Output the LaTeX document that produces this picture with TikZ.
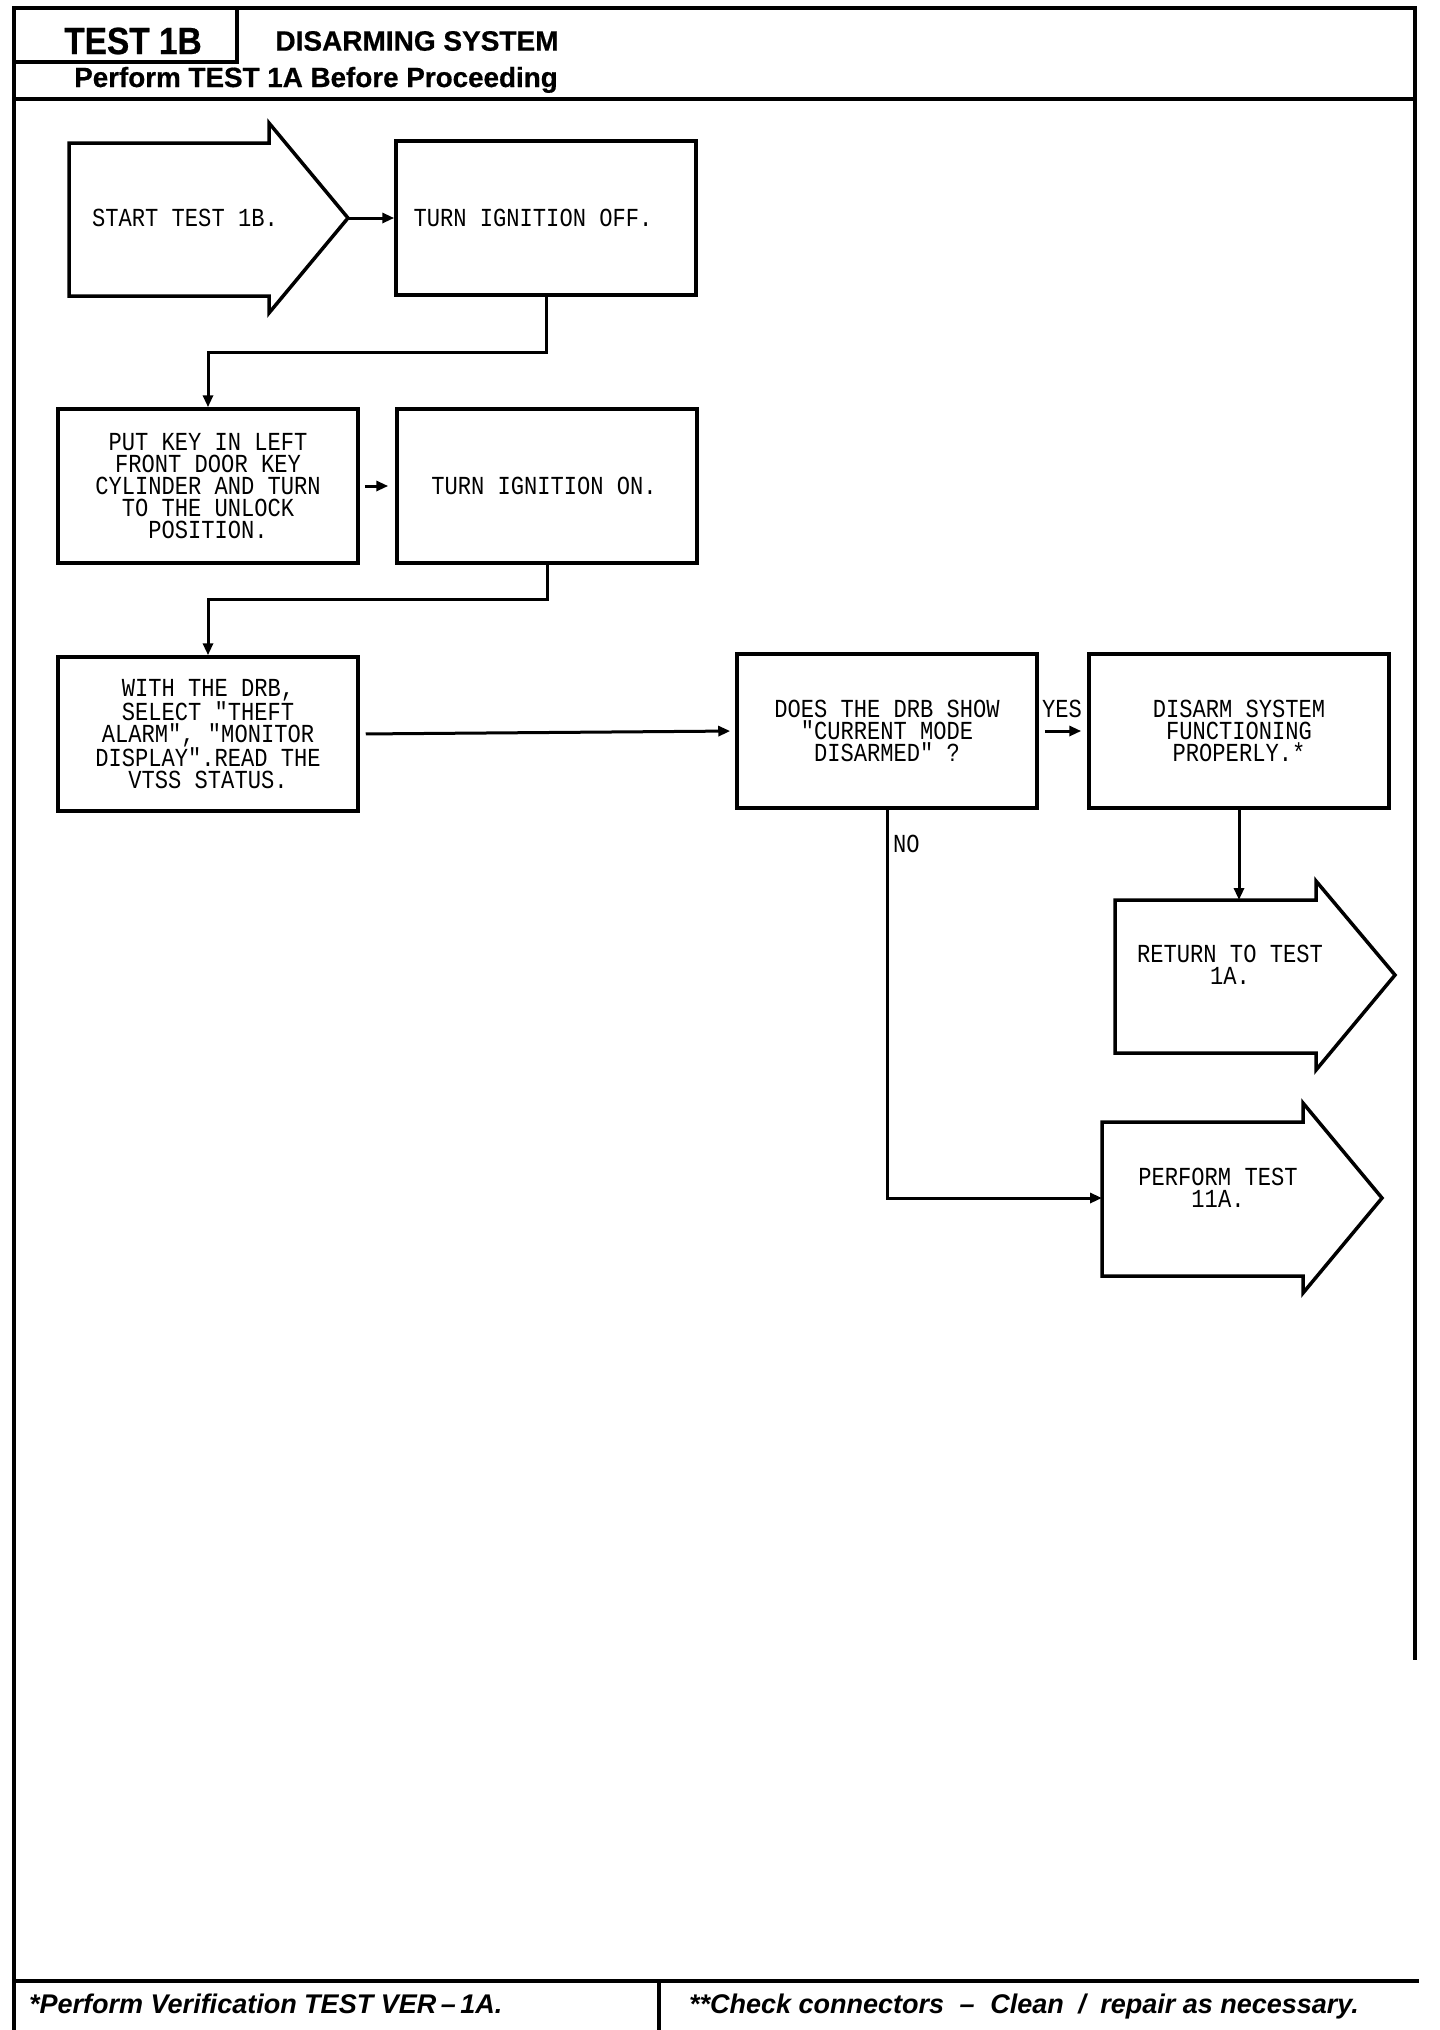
\documentclass[tikz,border=0pt]{standalone}
\usepackage{fontspec}
\setmainfont{Liberation Sans}
\newfontfamily\boxfont[FakeStretch=0.85]{Liberation Mono}
\newfontfamily\condsans[FakeStretch=0.88,FakeBold=0.6]{Liberation Sans}
\newfontfamily\headsans[FakeBold=0.6]{Liberation Sans}
\usetikzlibrary{arrows.meta}
\begin{document}
\begin{tikzpicture}[x=1pt,y=-1pt,
  box/.style={draw, line width=3.5pt, minimum width=300pt, minimum height=154pt, inner sep=0pt, align=center, font=\boxfont\fontsize{26}{22}\selectfont},
  lbl/.style={inner sep=0pt, align=center, font=\boxfont\fontsize{26}{22}\selectfont},
  conn/.style={line width=3pt},
  arr/.style={conn, -{Triangle[length=12pt,width=10pt]}},
  bigarrow/.style={line width=3.5pt, line join=miter},
  frame/.style={line width=4pt},
  foot/.style={inner sep=0pt, anchor=base west, font=\fontsize{27}{30}\selectfont\bfseries\itshape}
]
\fill[white] (0,0) rectangle (1440,2030);
\useasboundingbox (0,0) rectangle (1440,2030);

% frame
\draw[frame] (14,2030) -- (14,8) -- (1415,8) -- (1415,1660);
\draw[frame] (14,62) -- (237,62) -- (237,8);
\draw[frame] (14,99) -- (1415,99);
\draw[frame] (14,1981) -- (1419,1981);
\draw[frame] (659,1981) -- (659,2030);

% header
\node[inner sep=0pt, font=\condsans\fontsize{38}{40}\selectfont\bfseries] (t1b) at (133,41) {TEST 1B};
\node[inner sep=0pt, font=\headsans\fontsize{28}{30}\selectfont\bfseries] (title) at (417,41) {DISARMING SYSTEM};
\node[inner sep=0pt, anchor=base, font=\headsans\fontsize{27.8}{30}\selectfont\bfseries] (pre) at (316,87) {Perform TEST 1A Before Proceeding};

% start arrow
\draw[bigarrow] (69,143) -- (269,143) -- (269,123) -- (348,218) -- (269,313) -- (269,296) -- (69,296) -- cycle;
\coordinate (starttip) at (348,218);
\node[lbl] (start) at (185,218) {START TEST 1B.};

% boxes
\node[box] (off) at (546,218) {\hspace*{-26pt}TURN IGNITION OFF.};
\node[box] (putkey) at (208,486) {PUT KEY IN LEFT\\FRONT DOOR KEY\\CYLINDER AND TURN\\TO THE UNLOCK\\POSITION.};
\node[box] (on) at (547,486) {\hspace*{-6pt}TURN IGNITION ON.};
\node[box] (drb) at (208,734) {WITH THE DRB,\\SELECT "THEFT\\ALARM", "MONITOR\\DISPLAY".READ THE\\VTSS STATUS.};
\node[box] (does) at (887,731) {DOES THE DRB SHOW\\"CURRENT MODE\\DISARMED" ?};
\node[box] (disarm) at (1239,731) {DISARM SYSTEM\\FUNCTIONING\\PROPERLY.*};

% return arrow
\draw[bigarrow] (1115,900) -- (1316,900) -- (1316,881) -- (1395,975) -- (1316,1070) -- (1316,1053) -- (1115,1053) -- cycle;
\coordinate (rettop) at (1239,900);
\node[lbl] (ret) at (1230,965) {RETURN TO TEST\\1A.};

% perform arrow
\draw[bigarrow] (1102,1122) -- (1303,1122) -- (1303,1103) -- (1382,1198) -- (1303,1293) -- (1303,1276) -- (1102,1276) -- cycle;
\coordinate (perfin) at (1102,1198);
\node[lbl] (perf) at (1218,1188) {PERFORM TEST\\11A.};

% labels
\node[lbl] (yes) at (1062,709) {YES};
\node[lbl, anchor=west] (no) at (893,844) {NO};

% connectors
\draw[arr] (starttip) -- (off.west);
\draw[arr] (off.south) -- ++(0,56) -| (putkey.north);
\draw[arr, shorten <=5pt, shorten >=7pt] (putkey.east) -- (on.west);
\draw[arr] (on.south) -- ++(0,35) -| (drb.north);
\draw[arr, shorten <=6pt, shorten >=5pt] (drb.east) -- (does.west);
\draw[arr, shorten <=6pt, shorten >=6pt] (does.east) -- (disarm.west);
\draw[arr] (disarm.south) -- (disarm.south |- rettop);
\draw[arr] (does.south) |- (perfin);

% footer
\node[foot] (f1) at (29,2013) {*Perform Verification TEST VER\,–\,1A.};
\node[foot] (f2) at (689,2013) {**Check connectors\hspace{8pt} –\hspace{8pt} Clean\hspace{7pt} /\hspace{7pt} repair as necessary.};
\end{tikzpicture}
\end{document}
